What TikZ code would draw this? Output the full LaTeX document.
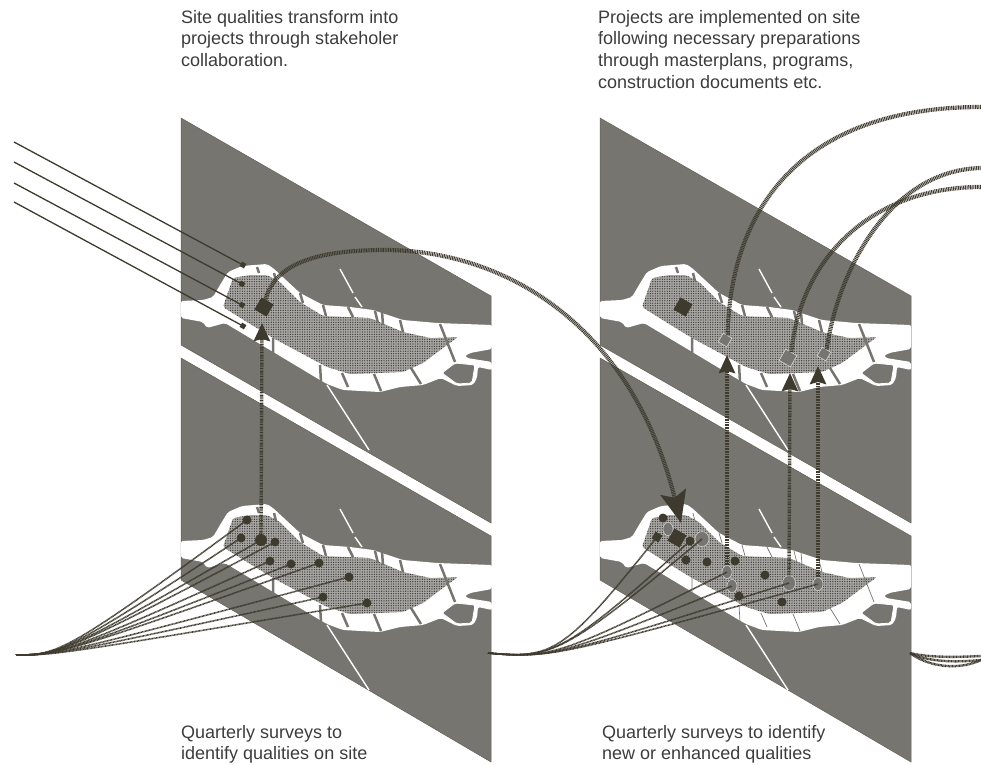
\documentclass[tikz,border=0pt]{standalone}
\usepackage{fontspec}
\setmainfont{Liberation Sans}
\usetikzlibrary{arrows.meta,patterns.meta,shapes.geometric}
\definecolor{panelgray}{HTML}{767570}
\definecolor{markdark}{HTML}{3E3A2E}
\definecolor{marshgray}{HTML}{A9A8A4}
\definecolor{notegray}{HTML}{3C3C3C}
\newcommand{\siteplan}[3]{%
\begin{scope}[shift={(#1,#2)}]
\fill[white,rounded corners=2pt] (181,301) -- (203,300) -- (213,297) -- (220,285) -- (228,272) -- (242,266)
  -- (267,264) -- (273,268) -- (300,293) -- (323,305) -- (350,307) -- (373,310)
  -- (403,320) -- (437,323) -- (492,325) -- (492,349) -- (470,353) -- (465,356)
  -- (467,358) -- (492,362) -- (492,370) -- (478,367) -- (477,378) -- (473,385)
  -- (457,386) -- (441,378) -- (423,385) -- (400,387) -- (380,392) -- (343,390)
  -- (327,384) -- (320,380) -- (270,350) -- (245,335) -- (225,323) -- (207,328)
  -- (203,322) -- (181,318) -- cycle;
\fill[marshgray,rounded corners=2pt] (223,307) -- (233,278) -- (250,275) -- (267,275) -- (280,282) -- (300,302)
  -- (323,316) -- (370,318) -- (403,332) -- (430,338) -- (458,337) -- (447,345) -- (423,363)
  -- (403,372) -- (350,374) -- (327,367) -- (273,338) -- (247,322) -- cycle;
\fill[rounded corners=2pt,pattern={Dots[distance=2.4pt,radius=.7pt]},pattern color=panelgray!50!black] (223,307) -- (233,278) -- (250,275)
  -- (267,275) -- (280,282) -- (300,302) -- (323,316) -- (370,318) -- (403,332) -- (430,338)
  -- (458,337) -- (447,345) -- (423,363) -- (403,372) -- (350,374) -- (327,367)
  -- (273,338) -- (247,322) -- cycle;
\draw[panelgray,line width=#3] (257,267) -- (259,273) (274,273) -- (276,281)
  (300,293) -- (303,303) (323,305) -- (326,316) (348,307) -- (353,317)
  (375,311) -- (378,323) (382,312) -- (383,325) (400,320) -- (403,332)
  (440,324) -- (455,362) (273,338) -- (273,354) (320,365) -- (321,382)
  (342,373) -- (348,387) (374,374) -- (381,391) (411,368) -- (421,384);
\draw[white,line width=1.4pt] (340,269) -- (353,293) (355,297) -- (362,307)
  (327,385) -- (369,450);
\draw[white,line width=.8pt,fill=panelgray,rounded corners=2pt] (442,373) -- (455,363) -- (475,365) -- (472,383)
  -- (457,384) -- cycle;
\end{scope}}
\begin{document}
\begin{tikzpicture}[
  x=1pt,y=-1pt,
  note/.style={anchor=north west,align=left,inner sep=0pt,text=notegray,
    font=\fontsize{18}{21.7}\selectfont},
  plane/.style={fill=panelgray,draw=markdark!80,line width=.5pt},
  sightline/.style={draw=markdark,line width=1.3pt},
  surveyline/.style={draw=markdark,line width=1.6pt,dash pattern=on .9pt off .5pt},
  riseline/.style={draw=markdark,line width=3.4pt,dash pattern=on .9pt off .7pt},
  flowline/.style={draw=markdark,line width=4.2pt,dash pattern=on 1pt off .7pt},
  tinymark/.style={rectangle,fill=markdark,inner sep=0pt,minimum size=5pt,rotate=-30},
  bigsquare/.style={rectangle,fill=markdark,inner sep=0pt,minimum size=14pt,rotate=-30},
  paleSquare/.style={rectangle,fill=panelgray,draw=white!70!panelgray,line width=.6pt,
    inner sep=0pt,minimum size=10pt,rotate=-30},
  dotmark/.style={circle,fill=markdark,inner sep=0pt,minimum size=9pt},
  bigdot/.style={circle,fill=markdark,inner sep=0pt,minimum size=12pt},
  paleblob/.style={ellipse,fill=panelgray,draw=white!70!panelgray,line width=.5pt,
    inner sep=0pt,minimum width=10pt,minimum height=13pt}]
\useasboundingbox (0,0) rectangle (981,764);

\draw[plane] (181,118) -- (491,296) -- (491,523) -- (181,345) -- cycle;
\draw[plane] (181,358) -- (491,536) -- (491,762) -- (181,580) -- cycle;
\draw[plane] (600,118) -- (911,296) -- (911,523) -- (600,345) -- cycle;
\draw[plane] (600,358) -- (911,536) -- (911,762) -- (600,580) -- cycle;
\siteplan{0}{0}{2.5pt}
\siteplan{0}{240}{2.5pt}
\siteplan{419}{0}{2.5pt}
\siteplan{419}{240}{.7pt}

\node[note] (sitetext) at (181,10) {Site qualities transform into\\projects through stakeholer\\collaboration.};
\node[note] (projecttext) at (598,10) {Projects are implemented on site\\following necessary preparations\\through masterplans, programs,\\construction documents etc.};
\node[note] (surveytext) at (181,725) {Quarterly surveys to\\identify qualities on site};
\node[note] (newtext) at (602,725) {Quarterly surveys to identify\\new or enhanced qualities};

\node[tinymark] (tick a) at (243,265) {};
\node[tinymark] (tick b) at (242,284) {};
\node[tinymark] (tick c) at (242,305) {};
\node[tinymark] (tick d) at (243,326) {};
\coordinate (sun a) at (14,142);
\coordinate (sun b) at (14,162);
\coordinate (sun c) at (14,183);
\coordinate (sun d) at (14,202);
\draw[sightline] (sun a) -- (tick a.center);
\draw[sightline] (sun b) -- (tick b.center);
\draw[sightline] (sun c) -- (tick c.center);
\draw[sightline] (sun d) -- (tick d.center);

\node[bigsquare] (idea) at (264,307) {};
\node[bigsquare] (plan) at (683,307) {};
\node[paleSquare] (build a) at (725,340) {};
\node[paleSquare,minimum size=13pt] (build b) at (788,358) {};
\node[paleSquare] (build c) at (824,354) {};

\node[dotmark] (found a) at (247,520) {};
\node[dotmark] (found b) at (241,538) {};
\node[bigdot] (found c) at (261,540) {};
\node[dotmark] (found d) at (275,542) {};
\node[dotmark] (found e) at (270,561) {};
\node[dotmark] (found f) at (291,564) {};
\node[dotmark] (found g) at (319,563) {};
\node[dotmark] (found h) at (349,577) {};
\node[dotmark] (found i) at (323,597) {};
\node[dotmark] (found j) at (367,603) {};

\node[dotmark] (again a) at (663,518) {};
\node[paleblob] (again b) at (668,529) {};
\node[tinymark,minimum size=8pt] (again c) at (657,537) {};
\node[bigsquare] (again d) at (677,538) {};
\node[dotmark] (again e) at (690,541) {};
\node[paleblob,minimum width=14pt,minimum height=15pt] (again f) at (702,539) {};
\node[dotmark] (again g) at (686,560) {};
\node[dotmark] (again h) at (707,562) {};
\node[dotmark] (again i) at (735,561) {};
\node[paleblob] (again j) at (727,572) {};
\node[dotmark] (again k) at (765,575) {};
\node[paleblob] (again l) at (732,586) {};
\node[dotmark] (again m) at (739,596) {};
\node[paleblob,minimum width=13pt,minimum height=15pt] (again n) at (789,583) {};
\node[dotmark] (again o) at (782,602) {};
\node[paleblob] (again p) at (818,584) {};

\coordinate (fan left) at (16,655);
\coordinate (fan right) at (488,653);
\draw[surveyline] (fan left) .. controls (58,655) and (66,653) .. (found a.center);
\draw[surveyline] (fan left) .. controls (58,655) and (66,653) .. (found b.center);
\draw[surveyline] (fan left) .. controls (58,655) and (66,653) .. (found c.center);
\draw[surveyline] (fan left) .. controls (58,655) and (66,653) .. (found d.center);
\draw[surveyline] (fan left) .. controls (58,655) and (66,653) .. (found e.center);
\draw[surveyline] (fan left) .. controls (58,655) and (66,653) .. (found f.center);
\draw[surveyline] (fan left) .. controls (58,655) and (66,653) .. (found g.center);
\draw[surveyline] (fan left) .. controls (58,655) and (66,653) .. (found h.center);
\draw[surveyline] (fan left) .. controls (58,655) and (66,653) .. (found i.center);
\draw[surveyline] (fan left) .. controls (58,655) and (66,653) .. (found j.center);
\draw[surveyline] (fan right) .. controls (552,659) and (564,654) .. (again c.center);
\draw[surveyline] (fan right) .. controls (552,659) and (564,654) .. (again e.center);
\draw[surveyline] (fan right) .. controls (552,659) and (564,654) .. (again f.center);
\draw[surveyline] (fan right) .. controls (552,659) and (564,654) .. (again j.center);
\draw[surveyline] (fan right) .. controls (552,659) and (564,654) .. (again l.center);
\draw[surveyline] (fan right) .. controls (552,659) and (564,654) .. (again n.center);
\draw[surveyline] (fan right) .. controls (552,659) and (564,654) .. (again p.center);

\coordinate (idea tip) at (262,323);
\coordinate (build tip a) at (727,355);
\coordinate (build tip b) at (790,373);
\coordinate (build tip c) at (818,366);
\coordinate (again tip) at (681,523);
\draw[riseline,-{Stealth[length=18pt,width=16pt,inset=2pt]}] (found c.center) -- (idea tip);
\draw[riseline,-{Stealth[length=18pt,width=16pt,inset=2pt]}] (again j.north) -- (build tip a);
\draw[riseline,-{Stealth[length=18pt,width=16pt,inset=2pt]}] (again n.north) -- (build tip b);
\draw[riseline,-{Stealth[length=18pt,width=16pt,inset=2pt]}] (again p.north) -- (build tip c);
\draw[flowline,-{Stealth[length=32pt,width=26pt,inset=6pt]}] (idea.center)
  .. controls (270,262) and (320,250) .. (385,250)
  .. controls (500,250) and (630,320) .. (again tip);

\coordinate (exit a) at (981,107);
\coordinate (exit b) at (981,187);
\coordinate (exit c) at (981,168);
\coordinate (exit d) at (981,656);
\coordinate (exit e) at (981,660);
\coordinate (fan end) at (910,653);
\draw[flowline] (build a.north) .. controls (730,210) and (800,107) .. (exit a);
\draw[flowline] (build b.north) .. controls (800,260) and (870,187) .. (exit b);
\draw[flowline] (build c.north) .. controls (838,270) and (890,170) .. (exit c);
\draw[surveyline,line width=2.4pt] (fan end) .. controls (930,658) and (960,657) .. (exit d);
\draw[surveyline,line width=2.4pt] (fan end) .. controls (930,663) and (960,662) .. (exit e);
\draw[surveyline,line width=2.4pt] (fan end) .. controls (930,668) and (960,670) .. (exit e);
\end{tikzpicture}
\end{document}
